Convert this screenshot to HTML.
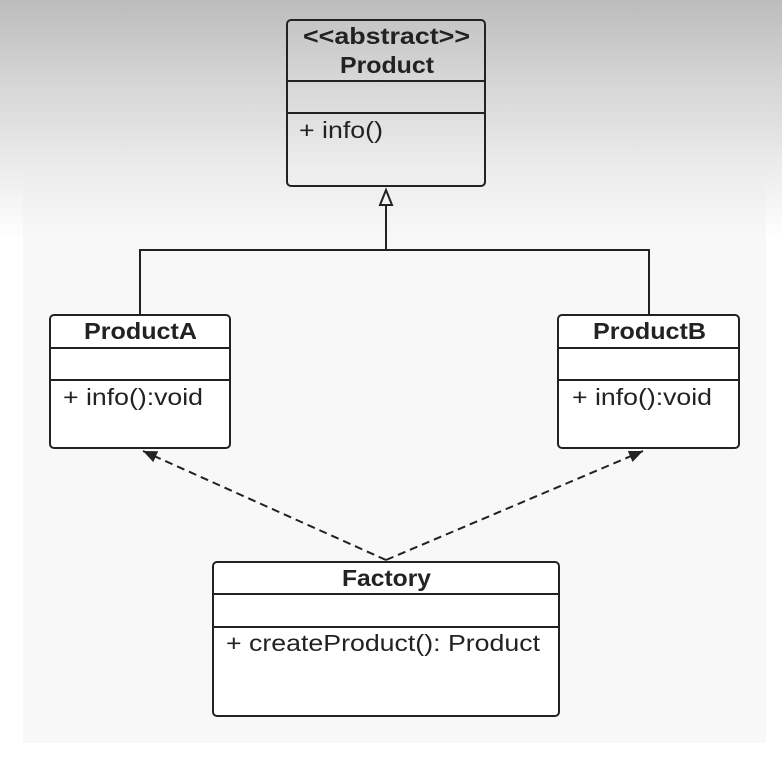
<!DOCTYPE html>
<html><head><meta charset="utf-8"><style>
html,body{margin:0;padding:0;width:782px;height:772px;overflow:hidden;background:#fff;}
.canvas{position:absolute;left:23px;top:0;width:743px;height:743px;background:#f8f8f8;}
.grad{position:absolute;left:0;top:0;width:782px;height:240px;background:linear-gradient(#bcbcbc 0%,#d6d6d6 35%,#ececec 70%,rgba(248,248,248,0) 100%);}
svg{position:absolute;left:0;top:0;}
text{font-family:"Liberation Sans",sans-serif;fill:#222;}
</style></head><body>
<div class="canvas"></div>
<div class="grad"></div>
<svg width="782" height="772" viewBox="0 0 782 772">
<defs>
<marker id="fa" markerWidth="16" markerHeight="14" refX="14" refY="6" orient="auto" markerUnits="userSpaceOnUse">
<path d="M0,0 L14,6 L0,12 Z" fill="#222"/></marker>
</defs>
<g stroke="#222" stroke-width="2" fill="none">
<rect x="287" y="20" width="198" height="166" rx="4" fill="rgba(255,255,255,0.05)"/>
<line x1="287" y1="81" x2="485" y2="81"/>
<line x1="287" y1="113" x2="485" y2="113"/>
<rect x="50" y="315" width="180" height="133" rx="4" fill="#fff"/>
<line x1="50" y1="348" x2="230" y2="348"/>
<line x1="50" y1="380" x2="230" y2="380"/>
<rect x="558" y="315" width="181" height="133" rx="4" fill="#fff"/>
<line x1="558" y1="348" x2="739" y2="348"/>
<line x1="558" y1="380" x2="739" y2="380"/>
<rect x="213" y="562" width="346" height="154" rx="4" fill="#fff"/>
<line x1="213" y1="594" x2="559" y2="594"/>
<line x1="213" y1="627" x2="559" y2="627"/>
<polyline points="140,315 140,250 649,250 649,315"/>
<line x1="386" y1="250" x2="386" y2="205"/>
<path d="M380,205 L386,190 L392,205 Z" fill="#f4f4f4"/>
<line x1="386" y1="560" x2="143" y2="451" stroke-dasharray="8,5" marker-end="url(#fa)"/>
<line x1="386" y1="560" x2="643" y2="451" stroke-dasharray="8,5" marker-end="url(#fa)"/>
</g>
<g font-size="23">
<text x="303" y="44" font-weight="bold" textLength="167" lengthAdjust="spacingAndGlyphs">&lt;&lt;abstract&gt;&gt;</text>
<text x="340" y="73" font-weight="bold" textLength="94" lengthAdjust="spacingAndGlyphs">Product</text>
<text x="299" y="138" textLength="84" lengthAdjust="spacingAndGlyphs">+ info()</text>
<text x="84" y="339" font-weight="bold" textLength="113" lengthAdjust="spacingAndGlyphs">ProductA</text>
<text x="63" y="405" textLength="140" lengthAdjust="spacingAndGlyphs">+ info():void</text>
<text x="593" y="339" font-weight="bold" textLength="113" lengthAdjust="spacingAndGlyphs">ProductB</text>
<text x="572" y="405" textLength="140" lengthAdjust="spacingAndGlyphs">+ info():void</text>
<text x="342" y="586" font-weight="bold" textLength="89" lengthAdjust="spacingAndGlyphs">Factory</text>
<text x="226" y="651" textLength="314" lengthAdjust="spacingAndGlyphs">+ createProduct():  Product</text>
</g>
</svg>
</body></html>
